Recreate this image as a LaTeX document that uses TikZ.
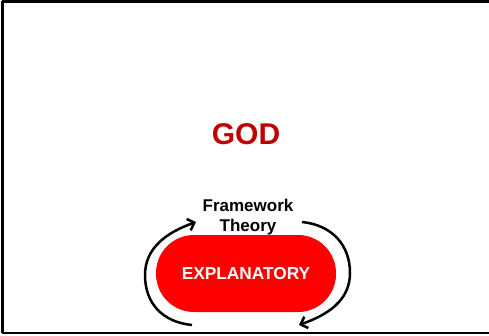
\documentclass[tikz,border=0pt]{standalone}
\usepackage{fontspec}
\setmainfont{Liberation Sans}
\usetikzlibrary{arrows.meta}
\definecolor{godred}{HTML}{C00000}
\definecolor{pillred}{HTML}{FF0000}

\begin{document}
\begin{tikzpicture}[
        x=1pt, y=1pt,
        >={Straight Barb[length=6pt,width=12pt]},
        cycle arrow/.style={line width=2.5pt, ->},
        frame line/.style={line width=3pt},
        pill/.style={fill=pillred, rounded corners=38pt, minimum width=180pt,
          minimum height=77pt, inner sep=0pt, text=white,
          font=\bfseries\fontsize{17.3}{20}\selectfont},
        title/.style={text=godred, font=\bfseries\fontsize{30}{34}\selectfont},
        label text/.style={align=center, font=\bfseries\fontsize{17}{20}\selectfont}
      ]
      \useasboundingbox (0,0) rectangle (489,335);

      % frame
      \draw[frame line] (2,333) -- (489,333);
      \draw[frame line] (2.5,334) -- (2.5,2);
      \draw[line width=2pt] (1.5,2.5) -- (489,2.5);

      % nodes
      \node[title] (god) at (246,201) {GOD};
      \node[pill] (explanatory) at (246,61.5) {EXPLANATORY};
      \node[label text] (framework) at (248,118) {Framework\\Theory};

      % ends of the two arrows
      \coordinate (l start) at (192,10);
      \coordinate (l mid) at (145,60);
      \coordinate (l end) at (196,113);
      \coordinate (r start) at (302,113);
      \coordinate (r mid) at (350,62);
      \coordinate (r end) at (299,10);

      \draw[cycle arrow] (l start) .. controls +(-30,3) and +(0,-28) .. (l mid)
        .. controls +(0,28) and +(-28,-10) .. (l end);
      \draw[cycle arrow] (r start) .. controls +(30,-3) and +(0,28) .. (r mid)
        .. controls +(0,-28) and +(28,10) .. (r end);
    \end{tikzpicture}
\end{document}
